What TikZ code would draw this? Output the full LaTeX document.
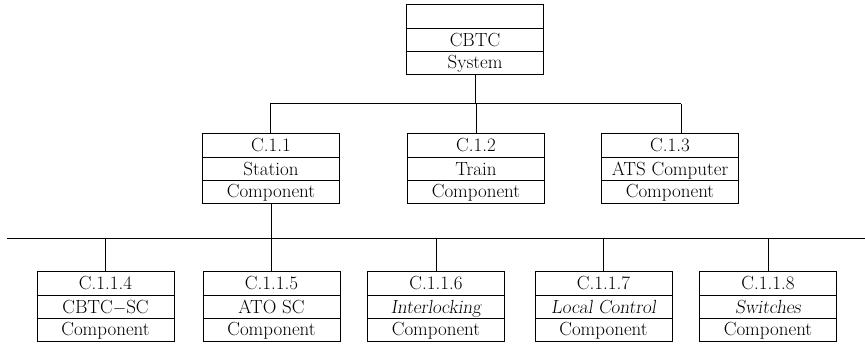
\documentclass[tikz,border=0pt]{standalone}
\usepackage{fontspec}
\tikzset{
  cbox/.style={draw, line width=1pt, minimum width=137pt, minimum height=70pt, inner sep=0pt, anchor=north},
  lbl/.style={inner sep=0pt, anchor=base, font=\fontsize{19}{23}\selectfont},
  conn/.style={line width=1pt},
}
\newcommand\mybox[6]{%
  \node[cbox] (#1) at (#2,#3) {};
  \draw[conn] ([yshift=-25pt]#1.north west) -- ([yshift=-25pt]#1.north east);
  \draw[conn] ([yshift=-48pt]#1.north west) -- ([yshift=-48pt]#1.north east);
  \node[lbl] (#1-a) at ([yshift=-19pt]#1.north) {#4};
  \node[lbl] (#1-b) at ([yshift=-42.5pt]#1.north) {#5};
  \node[lbl] (#1-c) at ([yshift=-65pt]#1.north) {#6};
}
\begin{document}
\begin{tikzpicture}[x=1pt,y=-1pt]
\useasboundingbox (0,0) rectangle (865,344);
% top
\mybox{top}{475}{4}{}{CBTC}{System}
% middle
\mybox{c11}{271}{133}{C.1.1}{Station}{Component}
\mybox{c12}{476}{133}{C.1.2}{Train}{Component}
\mybox{c13}{670}{133}{C.1.3}{ATS Computer}{Component}
% bottom
\mybox{c114}{105.5}{271}{C.1.1.4}{CBTC$-$SC}{Component}
\mybox{c115}{271.5}{271}{C.1.1.5}{ATO SC}{Component}
\mybox{c116}{436}{271}{C.1.1.6}{\slshape Interlocking}{Component}
\mybox{c117}{603.5}{271}{C.1.1.7}{\slshape Local Control}{Component}
\mybox{c118}{768}{271}{C.1.1.8}{\slshape Switches}{Component}
% upper bus
\coordinate (b1l) at (270,104);
\coordinate (b1r) at (681,104);
\draw[conn] (b1l) -- (b1r);
\draw[conn] (top.south) -- (top.south |- b1l);
\draw[conn] ([xshift=-1pt]c11.north) -- (b1l);
\draw[conn] (c12.north) -- (c12.north |- b1l);
\draw[conn] ([xshift=11pt]c13.north) -- (b1r);
% lower bus
\coordinate (b2l) at (7,239);
\coordinate (b2r) at (865,239);
\draw[conn] (b2l) -- (b2r);
\draw[conn] (c11.south) -- (c11.south |- b2l);
\foreach \n in {c114,c115,c116,c117,c118}{
  \draw[conn] (\n.north) -- (\n.north |- b2l);
}
\end{tikzpicture}
\end{document}
